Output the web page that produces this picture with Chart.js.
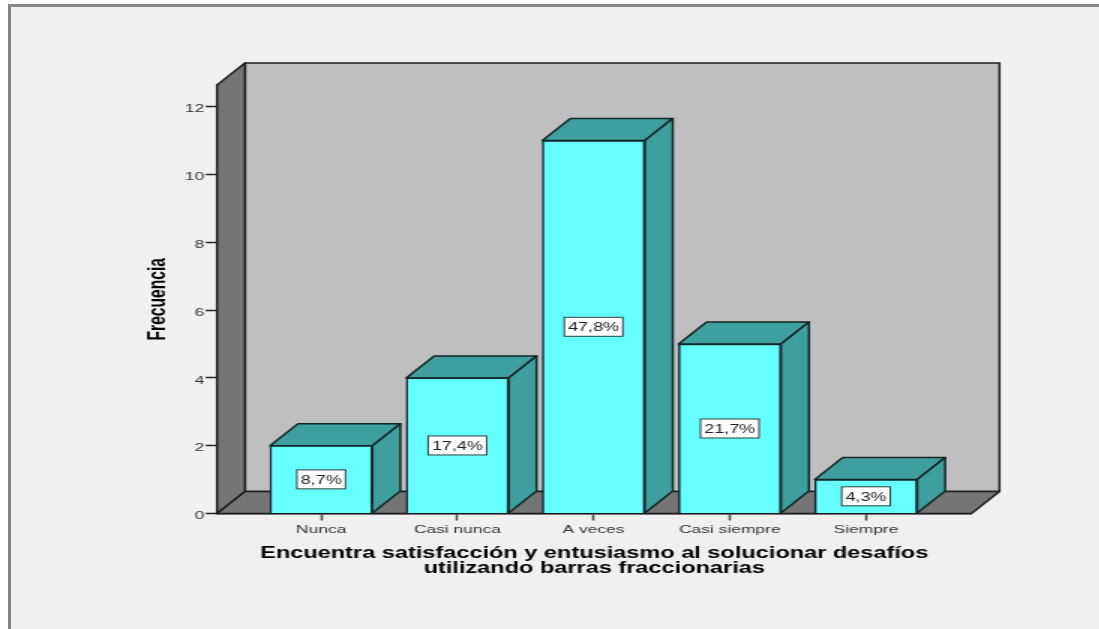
<!DOCTYPE html>
<html lang="es">
<head>
    <meta charset="UTF-8">
    <title>Frecuencia - barras fraccionarias</title>
    <script src="https://cdn.jsdelivr.net/npm/chart.js@4/dist/chart.umd.js"></script>
    <style>
        html, body {
            margin: 0;
            padding: 0;
            background: #fff;
            overflow: hidden;
        }
        #marco {
            position: absolute;
            left: 8px;
            top: 4px;
            width: 1091px;
            height: 625px;
            box-sizing: border-box;
            border-left: 3px solid #858585;
            border-top: 3px solid #858585;
            background: #f0f0f0;
        }
        #grafico {
            position: absolute;
            left: 0;
            top: 0;
            transform-origin: 0 0;
            transform: scaleX(1.5);
        }
    </style>
</head>
<body>

<div id="marco"></div>
<canvas id="grafico" width="733" height="629"></canvas>

<script>
    const categorias = ['Nunca', 'Casi nunca', 'A veces', 'Casi siempre', 'Siempre'];
    const frecuencias = [2, 4, 11, 5, 1];
    const porcentajes = ['8,7%', '17,4%', '47,8%', '21,7%', '4,3%'];
    const marcasY = [0, 2, 4, 6, 8, 10, 12];
    const tituloX = ['Encuentra satisfacción y entusiasmo al solucionar desafíos', 'utilizando barras fraccionarias'];
    const tituloY = 'Frecuencia';

    // El canvas se estira 1.5 veces en horizontal con CSS
    const ESTIRA = 1.5;
    const fondoX = 28 / ESTIRA;   // profundidad 3D en x
    const fondoY = 22;            // profundidad 3D en y
    const FUENTE = '"Liberation Sans", Arial, sans-serif';

    function polig(ctx, puntos, relleno) {
        ctx.beginPath();
        puntos.forEach((p, i) => i ? ctx.lineTo(p[0], p[1]) : ctx.moveTo(p[0], p[1]));
        ctx.closePath();
        ctx.fillStyle = relleno;
        ctx.fill();
        ctx.stroke();
    }

    // Paredes, suelo y caras laterales de las barras
    const caja3d = {
        id: 'caja3d',
        beforeDatasetsDraw(chart) {
            const { ctx, chartArea: a } = chart;
            ctx.save();
            ctx.strokeStyle = '#1c1c1c';
            ctx.lineWidth = 1.5;
            ctx.lineJoin = 'round';
            polig(ctx, [[a.left + fondoX, a.top - fondoY], [a.right + fondoX, a.top - fondoY],
                        [a.right + fondoX, a.bottom - fondoY], [a.left + fondoX, a.bottom - fondoY]], '#bfbfbf');
            polig(ctx, [[a.left, a.top], [a.left + fondoX, a.top - fondoY],
                        [a.left + fondoX, a.bottom - fondoY], [a.left, a.bottom]], '#757575');
            polig(ctx, [[a.left, a.bottom], [a.left + fondoX, a.bottom - fondoY],
                        [a.right + fondoX, a.bottom - fondoY], [a.right, a.bottom]], '#757575');
            ctx.strokeStyle = '#142626';
            chart.getDatasetMeta(0).data.forEach(barra => {
                const izq = barra.x - barra.width / 2;
                const der = barra.x + barra.width / 2;
                polig(ctx, [[izq, barra.y], [izq + fondoX, barra.y - fondoY],
                            [der + fondoX, barra.y - fondoY], [der, barra.y]], '#3f9f9f');
                polig(ctx, [[der, barra.y], [der + fondoX, barra.y - fondoY],
                            [der + fondoX, barra.base - fondoY], [der, barra.base]], '#3f9f9f');
            });
            ctx.restore();
        },
        afterDatasetsDraw(chart) {
            // Etiquetas de porcentaje en el centro de cada barra
            const { ctx } = chart;
            ctx.save();
            ctx.font = '12px ' + FUENTE;
            ctx.textAlign = 'center';
            ctx.textBaseline = 'middle';
            chart.getDatasetMeta(0).data.forEach((barra, i) => {
                const cy = (barra.y + barra.base) / 2;
                const ancho = ctx.measureText(porcentajes[i]).width + 5;
                ctx.fillStyle = '#fff';
                ctx.strokeStyle = '#2e3e3e';
                ctx.lineWidth = 1;
                ctx.fillRect(barra.x - ancho / 2, cy - 9.5, ancho, 19);
                ctx.strokeRect(barra.x - ancho / 2, cy - 9.5, ancho, 19);
                ctx.fillStyle = '#222';
                ctx.fillText(porcentajes[i], barra.x, cy + 1);
            });
            ctx.restore();
        }
    };

    new Chart(document.getElementById('grafico'), {
        type: 'bar',
        data: {
            datasets: [{
                data: categorias.map((c, i) => ({ x: i, y: frecuencias[i] })),
                backgroundColor: '#66ffff',
                borderColor: '#142626',
                borderWidth: 1.5,
                barThickness: 102.4 / ESTIRA
            }]
        },
        options: {
            responsive: false,
            animation: false,
            devicePixelRatio: 1,
            layout: {
                padding: { left: 96.7, top: 85, right: 128 / ESTIRA, bottom: 0 }
            },
            plugins: {
                legend: { display: false },
                tooltip: { enabled: false }
            },
            scales: {
                x: {
                    type: 'linear',
                    offset: false,
                    min: -0.765,
                    max: 4.775,
                    afterBuildTicks(eje) {
                        eje.ticks = categorias.map((c, i) => ({ value: i }));
                    },
                    afterFit(eje) {
                        eje.height = 629 - 513.5;
                    },
                    ticks: {
                        autoSkip: false,
                        maxRotation: 0,
                        padding: 2,
                        color: '#333',
                        font: { family: FUENTE, size: 11.6 },
                        callback: value => categorias[value]
                    },
                    grid: {
                        offset: false,
                        drawOnChartArea: false,
                        tickLength: 7,
                        tickColor: '#444',
                        tickWidth: 1.5
                    },
                    border: { color: '#333', width: 1.5 },
                    title: {
                        display: true,
                        text: tituloX,
                        color: '#000',
                        align: 'center',
                        font: { family: FUENTE, size: 15.7, weight: 'bold', lineHeight: 0.95 },
                        padding: { top: 6, bottom: 52.5 }
                    }
                },
                y: {
                    min: 0,
                    max: 12.64,
                    afterBuildTicks(eje) {
                        eje.ticks = marcasY.map(v => ({ value: v }));
                    },
                    afterFit(eje) {
                        eje.width = 217 / ESTIRA - 96.7;
                    },
                    ticks: {
                        padding: 1,
                        color: '#333',
                        // linea vacia delante: baja el numero un poco respecto a la marca
                        font: { family: FUENTE, size: 11.6, lineHeight: '5px' },
                        callback: value => ['', String(value)]
                    },
                    grid: {
                        drawOnChartArea: false,
                        tickLength: 7.5,
                        tickColor: '#222',
                        tickWidth: 1.5
                    },
                    border: { color: '#1c1c1c', width: 1.5 },
                    title: {
                        display: true,
                        text: tituloY,
                        color: '#000',
                        font: { family: FUENTE, size: 15.6, weight: 'bold' },
                        padding: 0
                    }
                }
            }
        },
        plugins: [caja3d]
    });
</script>

</body>
</html>
